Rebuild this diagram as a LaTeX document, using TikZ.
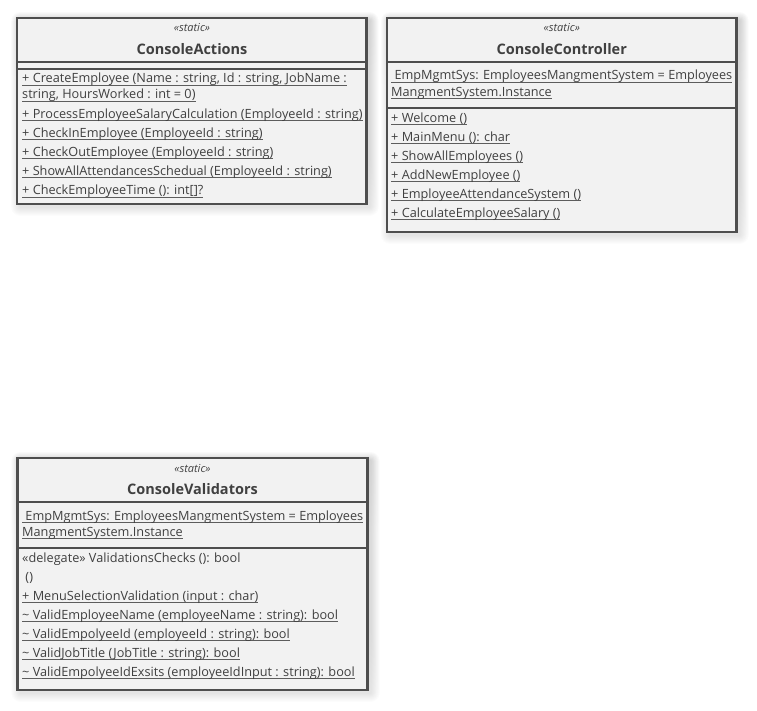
\documentclass[tikz,border=0pt]{standalone}
\usepackage{fontspec}
\setmainfont{Open Sans}
\definecolor{boxfill}{HTML}{F2F2F2}
\definecolor{boxline}{HTML}{4E4E4E}
\definecolor{txt}{HTML}{404040}
\definecolor{shade}{HTML}{000000}
% underlined static member: a thin rule just below the baseline
\newcommand\stm[1]{\setbox0\hbox{#1}\rlap{\color{txt!85}\rule[-2.2pt]{\wd0}{0.65pt}}\box0}
\tikzset{
  classbox/.style={draw=boxline, line width=2.4pt, fill=boxfill},
  sepline/.style={draw=boxline, line width=2.2pt},
  member/.style={anchor=base west, inner sep=0pt, text=txt, font=\fontsize{12.7}{15}\selectfont},
  stereo/.style={anchor=base, inner sep=0pt, text=txt, font=\fontsize{11}{13}\selectfont\itshape},
  classname/.style={anchor=base, inner sep=0pt, text=txt, font=\fontsize{14.5}{17}\selectfont\bfseries},
}
% soft shadow, shifted down and to the right of a box
\newcommand\boxshadow[4]{%
  \foreach \k in {1,...,9}{
    \fill[shade, opacity=0.012, rounded corners=\k pt]
      (#1+3-\k,#2+3-\k) rectangle (#3+3+\k,#4+3+\k);
  }%
}
\begin{document}
\begin{tikzpicture}[x=1pt,y=-1pt]
\useasboundingbox[fill=white] (0,0) rectangle (757,711);

% ---------- ConsoleActions ----------
\boxshadow{17.2}{18}{366.5}{204}
\draw[classbox] (17.2,18) rectangle (366.5,204);
\draw[sepline] (17.2,61.7) -- (366.5,61.7);
\draw[sepline] (17.2,69.3) -- (366.5,69.3);
\node[stereo] (caS) at (192,32) {«static»};
\node[classname] (caN) at (192,54.5) {ConsoleActions};
\node[member] (ca1) at (22,83) {\stm{+ CreateEmployee (Name : string, Id : string, JobName :}};
\node[member] (ca2) at (22,99) {\stm{string, HoursWorked : int = 0)}};
\node[member] (ca3) at (22,118.5) {\stm{+ ProcessEmployeeSalaryCalculation (EmployeeId : string)}};
\node[member] (ca4) at (22,137.5) {\stm{+ CheckInEmployee (EmployeeId : string)}};
\node[member] (ca5) at (22,156.5) {\stm{+ CheckOutEmployee (EmployeeId : string)}};
\node[member] (ca6) at (22,175.5) {\stm{+ ShowAllAttendancesSchedual (EmployeeId : string)}};
\node[member] (ca7) at (22,195) {\stm{+ CheckEmployeeTime (): int[]?}};

% ---------- ConsoleController ----------
\boxshadow{387}{18}{736.5}{232}
\draw[classbox] (387,18) rectangle (736.5,232);
\draw[sepline] (387,62.3) -- (736.5,62.3);
\draw[sepline] (387,108) -- (736.5,108);
\node[stereo] (ccS) at (561.8,32) {«static»};
\node[classname] (ccN) at (561.8,54.5) {ConsoleController};
\node[member] (cc1) at (391,80) {\stm{\ EmpMgmtSys: EmployeesMangmentSystem = Employees}};
\node[member] (cc2) at (391,96.5) {\stm{MangmentSystem.Instance}};
\node[member] (cc3) at (391,122.5) {\stm{+ Welcome ()}};
\node[member] (cc4) at (391,141.5) {\stm{+ MainMenu (): char}};
\node[member] (cc5) at (391,160.5) {\stm{+ ShowAllEmployees ()}};
\node[member] (cc6) at (391,179.5) {\stm{+ AddNewEmployee ()}};
\node[member] (cc7) at (391,198.5) {\stm{+ EmployeeAttendanceSystem ()}};
\node[member] (cc8) at (391,217.5) {\stm{+ CalculateEmployeeSalary ()}};

% ---------- ConsoleValidators ----------
\boxshadow{17.5}{458}{367.5}{690}
\draw[classbox] (17.5,458) rectangle (367.5,690);
\draw[sepline] (17.5,502.3) -- (367.5,502.3);
\draw[sepline] (17.5,548) -- (367.5,548);
\node[stereo] (cvS) at (192.5,472) {«static»};
\node[classname] (cvN) at (192.5,494.5) {ConsoleValidators};
\node[member] (cv1) at (22,520) {\stm{\ EmpMgmtSys: EmployeesMangmentSystem = Employees}};
\node[member] (cv2) at (22,536.5) {\stm{MangmentSystem.Instance}};
\node[member] (cv3) at (22,562) {«delegate» ValidationsChecks (): bool};
\node[member] (cv4) at (22,581.5) {\ ()};
\node[member] (cv5) at (22,600.5) {\stm{+ MenuSelectionValidation (input : char)}};
\node[member] (cv6) at (22,619.5) {\stm{\textasciitilde{} ValidEmployeeName (employeeName : string): bool}};
\node[member] (cv7) at (22,638.5) {\stm{\textasciitilde{} ValidEmpolyeeId (employeeId : string): bool}};
\node[member] (cv8) at (22,657.5) {\stm{\textasciitilde{} ValidJobTitle (JobTitle : string): bool}};
\node[member] (cv9) at (22,676.5) {\stm{\textasciitilde{} ValidEmpolyeeIdExsits (employeeIdInput : string): bool}};
\end{tikzpicture}
\end{document}
